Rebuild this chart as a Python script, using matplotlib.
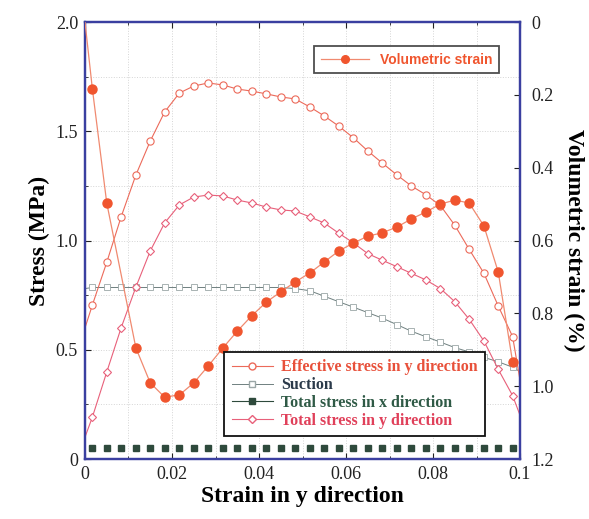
import numpy as np
import matplotlib
matplotlib.use("Agg")
import matplotlib.pyplot as plt
from matplotlib.lines import Line2D
from matplotlib.ticker import MultipleLocator

# sample points along strain in y direction
x_pts = [0.0017, 0.0050, 0.0083, 0.0117, 0.0150, 0.0183, 0.0217, 0.0250, 0.0283, 0.0317,
         0.0350, 0.0383, 0.0417, 0.0450, 0.0483, 0.0517, 0.0550, 0.0583, 0.0617, 0.0650,
         0.0683, 0.0717, 0.0750, 0.0783, 0.0817, 0.0850, 0.0883, 0.0917, 0.0950, 0.0983]

# stress curves (MPa); first value at strain 0, last at strain 0.1
eff_y = [0.60, 0.705, 0.90, 1.108, 1.30, 1.455, 1.588, 1.675, 1.707, 1.721, 1.712,
         1.693, 1.684, 1.671, 1.657, 1.648, 1.611, 1.57, 1.524, 1.47, 1.41,
         1.355, 1.30, 1.25, 1.21, 1.16, 1.07, 0.96, 0.85, 0.70, 0.56, 0.36]
tot_y = [0.10, 0.192, 0.398, 0.60, 0.787, 0.952, 1.08, 1.163, 1.199, 1.208, 1.204,
         1.185, 1.172, 1.153, 1.14, 1.135, 1.108, 1.08, 1.034, 0.989, 0.94,
         0.91, 0.88, 0.85, 0.82, 0.78, 0.72, 0.64, 0.54, 0.41, 0.29, 0.20]
suction = [0.78, 0.785, 0.785, 0.785, 0.785, 0.785, 0.785, 0.785, 0.785, 0.785, 0.785,
           0.785, 0.785, 0.785, 0.785, 0.78, 0.77, 0.745, 0.72, 0.695, 0.67,
           0.645, 0.615, 0.585, 0.56, 0.535, 0.51, 0.49, 0.465, 0.445, 0.42, 0.40]
tot_x = [0.05] * 30

# volumetric strain (%), point at 0.0083 not plotted in the original
vol_x = [0.0, 0.0017, 0.0050, 0.0117, 0.0150, 0.0183, 0.0217, 0.0250, 0.0283, 0.0317,
         0.0350, 0.0383, 0.0417, 0.0450, 0.0483, 0.0517, 0.0550, 0.0583, 0.0617, 0.0650,
         0.0683, 0.0717, 0.0750, 0.0783, 0.0817, 0.0850, 0.0883, 0.0917, 0.0950, 0.0983]
vol = [0.0, 0.184, 0.497, 0.895, 0.991, 1.030, 1.024, 0.991, 0.945, 0.895, 0.849,
       0.807, 0.769, 0.741, 0.714, 0.689, 0.659, 0.629, 0.607, 0.588, 0.579,
       0.563, 0.541, 0.522, 0.50, 0.489, 0.497, 0.56, 0.687, 0.934]

strain = [0.0] + x_pts + [0.1]
marks = list(range(1, 31))

c_eff = "#ec6a5a"
c_toty = "#e8607a"
c_suc = "#6f8080"
c_totx = "#2e4a3c"
c_vol = "#f0552e"
c_spine = "#3a3fa0"

serif = ["Liberation Serif", "DejaVu Serif"]
plt.rcParams["font.family"] = serif

fig = plt.figure(figsize=(5.89, 5.19), dpi=100)
ax = fig.add_axes([0.1443, 0.1156, 0.7386, 0.8420])

ax.plot(strain, eff_y, color=c_eff, lw=0.8, marker="o", ms=5.2, mfc="white",
        mec=c_eff, mew=0.8, markevery=marks, zorder=3)
ax.plot(strain, tot_y, color=c_toty, lw=0.8, marker="D", ms=4.2, mfc="white",
        mec=c_toty, mew=0.8, markevery=marks, zorder=3)
ax.plot(strain, suction, color=c_suc, lw=0.7, marker="s", ms=4.5, mfc="white",
        mec="#9aa6a6", mew=0.6, markevery=marks, zorder=2)
ax.plot(x_pts, tot_x, color=c_totx, lw=0.8, marker="s", ms=5, mfc=c_totx,
        mec=c_totx, ls="none", zorder=3)

ax.set_xlim(0, 0.1)
ax.set_ylim(0, 2.0)
ax.xaxis.set_minor_locator(MultipleLocator(0.01))
ax.yaxis.set_minor_locator(MultipleLocator(0.25))
ax.set_xticks([0, 0.02, 0.04, 0.06, 0.08, 0.1])
ax.set_xticklabels(["0", "0.02", "0.04", "0.06", "0.08", "0.1"])
ax.set_yticks([0, 0.5, 1.0, 1.5, 2.0])
ax.set_yticklabels(["0", "0.5", "1.0", "1.5", "2.0"])
ax.grid(True, which="both", color="#d5d5d5", ls=":", lw=0.7)
ax.tick_params(which="both", direction="in", labelsize=13, colors="#222222",
               top=True, pad=5)
ax.tick_params(which="major", length=4)
ax.tick_params(which="minor", length=2)
for s in ax.spines.values():
    s.set_color(c_spine)
    s.set_linewidth(1.6)

ax.set_xlabel("Strain in y direction", fontsize=17, fontweight="bold", labelpad=2)
ax.set_ylabel("Stress (MPa)", fontsize=17, fontweight="bold", labelpad=4)

ax2 = ax.twinx()
ax2.plot(vol_x, vol, color="#f08a70", lw=0.9, marker="o", ms=6.5, mfc=c_vol,
         mec=c_vol, markevery=list(range(1, len(vol))), zorder=4)
ax2.set_ylim(1.2, 0)
ax2.set_yticks([0, 0.2, 0.4, 0.6, 0.8, 1.0, 1.2])
ax2.set_yticklabels(["0", "0.2", "0.4", "0.6", "0.8", "1.0", "1.2"])
ax2.tick_params(direction="in", labelsize=13, colors="#222222", length=4, pad=8)
for s in ax2.spines.values():
    s.set_color(c_spine)
    s.set_linewidth(1.6)
ax2.set_ylabel("Volumetric strain (%)", fontsize=17, fontweight="bold",
               rotation=270, labelpad=22)

# legend for volumetric strain
h_vol = [Line2D([], [], color="#f08a70", lw=0.9, marker="o", ms=5.5, mfc=c_vol, mec=c_vol)]
leg1 = ax2.legend(h_vol, ["Volumetric strain"], loc="upper right",
                  bbox_to_anchor=(0.968, 0.962), frameon=True, fancybox=False,
                  handlelength=3.4, borderpad=0.5,
                  prop={"family": ["Liberation Sans", "DejaVu Sans"], "weight": "bold", "size": 10})
leg1.get_frame().set_edgecolor("#222222")
leg1.get_frame().set_linewidth(1.3)
leg1.get_texts()[0].set_color(c_vol)
ax2.add_artist(leg1)

h_stress = [
    Line2D([], [], color=c_eff, lw=0.8, marker="o", ms=5, mfc="white", mec=c_eff),
    Line2D([], [], color=c_suc, lw=0.7, marker="s", ms=4, mfc="white", mec="#9aa6a6"),
    Line2D([], [], color=c_totx, lw=0.8, marker="s", ms=5, mfc=c_totx, mec=c_totx),
    Line2D([], [], color=c_toty, lw=0.8, marker="D", ms=4, mfc="white", mec=c_toty),
]
labels = ["Effective stress in y direction", "Suction",
          "Total stress in x direction", "Total stress in y direction"]
leg2 = ax2.legend(h_stress, labels, loc="lower left", bbox_to_anchor=(0.302, 0.034),
                  frameon=True, fancybox=False, handlelength=2.6, labelspacing=0.12,
                  borderpad=0.45, handletextpad=0.5,
                  prop={"family": serif, "weight": "bold", "size": 11.5})
leg2.get_frame().set_edgecolor("#111111")
leg2.get_frame().set_linewidth(1.3)
leg2.get_frame().set_alpha(1)
for t, c in zip(leg2.get_texts(), ["#e8503a", "#2b3a4a", "#2f5a46", "#e0405a"]):
    t.set_color(c)

fig.savefig("out.png", dpi=100)
